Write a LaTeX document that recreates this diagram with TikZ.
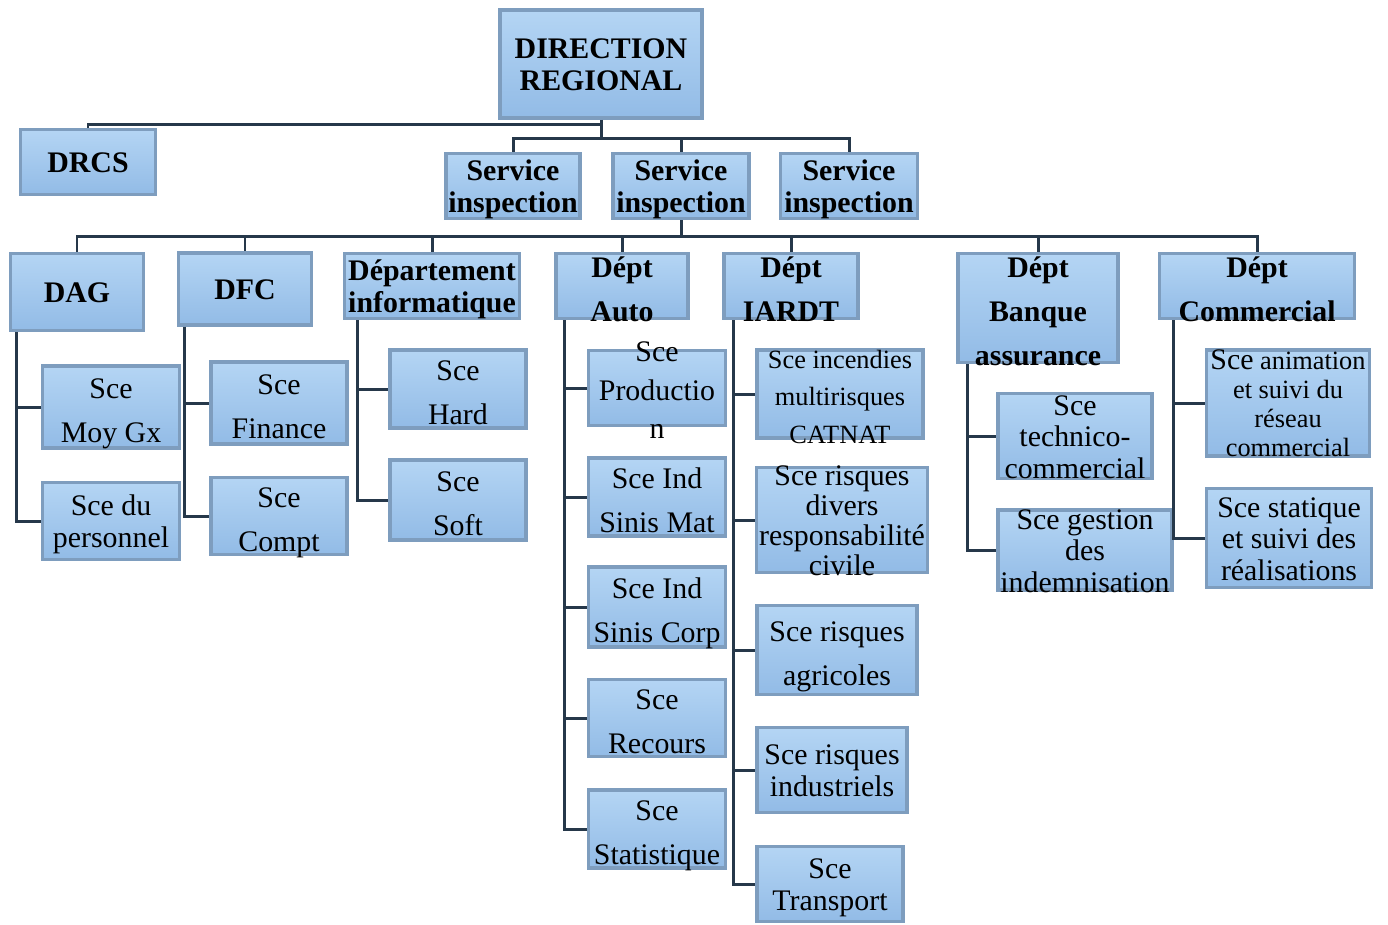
\documentclass[tikz,border=0pt]{standalone}
\usepackage{fontspec}
\setmainfont{Liberation Serif}
\usepackage{tikz}

\definecolor{boxlight}{HTML}{B4D5F4}
\definecolor{boxdark}{HTML}{92BBE6}
\definecolor{boxedge}{HTML}{7E9DBE}
\definecolor{linecol}{HTML}{26384A}

\newcommand{\orgtext}[1]{\raisebox{-0.4em}[0pt][0pt]{\begin{tabular}{@{}c@{}}#1\end{tabular}}}

\begin{document}
\begin{tikzpicture}[x=0.02cm,y=-0.02cm,
  box/.style={rectangle, draw=boxedge, line width=2pt, top color=boxlight, bottom color=boxdark, inner sep=0pt},
  headbox/.style={box, font=\bfseries\fontsize{17}{18}\selectfont},
  headwide/.style={box, font=\bfseries\fontsize{17}{25}\selectfont},
  scebox/.style={box, font=\fontsize{17}{18}\selectfont},
  scewide/.style={box, font=\fontsize{17}{25}\selectfont},
  link/.style={line width=1.7pt, color=linecol}]

\useasboundingbox (0,0) rectangle (1388,924);

% direction
\node[headbox, minimum width=4.04cm, minimum height=2.16cm] (dir) at (601,64) {\orgtext{DIRECTION\\REGIONAL}};
\node[headbox, minimum width=2.7cm, minimum height=1.3cm] (drcs) at (88,162) {\orgtext{DRCS}};
\node[headbox, minimum width=2.68cm, minimum height=1.3cm] (insp1) at (513,186) {\orgtext{Service\\inspection}};
\node[headbox, minimum width=2.72cm, minimum height=1.3cm] (insp2) at (681,186) {\orgtext{Service\\inspection}};
\node[headbox, minimum width=2.74cm, minimum height=1.3cm] (insp3) at (849,186) {\orgtext{Service\\inspection}};

% departements
\node[headbox, minimum width=2.66cm, minimum height=1.54cm] (dag) at (77,292) {\orgtext{DAG}};
\node[headbox, minimum width=2.66cm, minimum height=1.44cm] (dfc) at (245,289) {\orgtext{DFC}};
\node[headbox, minimum width=3.5cm, minimum height=1.3cm] (info) at (432,286) {\orgtext{Département\\informatique}};
\node[headwide, minimum width=2.64cm, minimum height=1.3cm] (auto) at (622,286) {\orgtext{Dépt\\Auto}};
\node[headwide, minimum width=2.68cm, minimum height=1.3cm] (iardt) at (791,286) {\orgtext{Dépt\\IARDT}};
\node[headwide, minimum width=3.2cm, minimum height=2.18cm] (banque) at (1038,308) {\orgtext{Dépt\\Banque\\assurance}};
\node[headwide, minimum width=3.9cm, minimum height=1.3cm] (comm) at (1257,286) {\orgtext{Dépt\\Commercial}};

% services
\node[scewide, minimum width=2.74cm, minimum height=1.64cm] (moygx) at (111,407) {\orgtext{Sce\\Moy Gx}};
\node[scebox, minimum width=2.74cm, minimum height=1.54cm] (perso) at (111,521) {\orgtext{Sce du\\personnel}};
\node[scewide, minimum width=2.72cm, minimum height=1.64cm] (finance) at (279,403) {\orgtext{Sce\\Finance}};
\node[scewide, minimum width=2.72cm, minimum height=1.54cm] (compt) at (279,516) {\orgtext{Sce\\Compt}};
\node[scewide, minimum width=2.72cm, minimum height=1.56cm] (hard) at (458,389) {\orgtext{Sce\\Hard}};
\node[scewide, minimum width=2.72cm, minimum height=1.6cm] (soft) at (458,500) {\orgtext{Sce\\Soft}};

\node[scebox, font=\fontsize{17}{22}\selectfont, minimum width=2.74cm, minimum height=1.5cm] (prod) at (657,388) {\orgtext{Sce\\Productio\\n}};
\node[scewide, minimum width=2.74cm, minimum height=1.56cm] (sinmat) at (657,497) {\orgtext{Sce Ind\\Sinis Mat}};
\node[scewide, minimum width=2.74cm, minimum height=1.6cm] (sincorp) at (657,607) {\orgtext{Sce Ind\\Sinis Corp}};
\node[scewide, minimum width=2.74cm, minimum height=1.54cm] (recours) at (657,718) {\orgtext{Sce\\Recours}};
\node[scewide, minimum width=2.74cm, minimum height=1.56cm] (stat) at (657,829) {\orgtext{Sce\\Statistique}};

\node[scebox, font=\fontsize{15}{21.5}\selectfont, minimum width=3.32cm, minimum height=1.76cm] (incend) at (840,394) {\orgtext{Sce incendies\\multirisques\\CATNAT}};
\node[scebox, font=\fontsize{17}{17}\selectfont, minimum width=3.42cm, minimum height=2.1cm] (divers) at (842,520) {\orgtext{Sce risques\\divers\\responsabilité\\civile}};
\node[scewide, minimum width=3.2cm, minimum height=1.78cm] (agri) at (837,650) {\orgtext{Sce risques\\agricoles}};
\node[scebox, minimum width=3.0cm, minimum height=1.7cm] (indus) at (832,770) {\orgtext{Sce risques\\industriels}};
\node[scebox, minimum width=2.92cm, minimum height=1.5cm] (transp) at (830,884) {\orgtext{Sce\\Transport}};

\node[scebox, minimum width=3.08cm, minimum height=1.7cm] (techno) at (1075,436) {\orgtext{Sce\\technico-\\commercial}};
\node[scebox, minimum width=3.48cm, minimum height=1.6cm] (gestion) at (1085,550) {\orgtext{Sce gestion\\des\\indemnisation}};

\node[scebox, font=\fontsize{15}{16.5}\selectfont, minimum width=3.26cm, minimum height=2.12cm] (anim) at (1288,403) {\orgtext{{\fontsize{17}{16.5}\selectfont Sce} animation\\et suivi du\\réseau\\commercial}};
\node[scebox, minimum width=3.3cm, minimum height=1.98cm] (statq) at (1289,538) {\orgtext{Sce statique\\et suivi des\\réalisations}};

% liaisons
\coordinate (b1) at (601,124);
\coordinate (b2) at (601,138);
\coordinate (b3) at (681,236);

\draw[link] (dir.south) -- (b1) -| (drcs.north);
\draw[link] (b1) -- (b2);
\foreach \n in {insp1,insp2,insp3}
{
\draw[link] (b2) -| (\n.north);
}
\draw[link] (insp2.south) -- (b3);
\foreach \n in {dag,dfc,info,auto,iardt,banque,comm}
{
\draw[link] (b3) -| (\n.north);
}

\foreach \p/\c/\d in {dag/moygx/0.16, dag/perso/0.16, dfc/finance/0.16, dfc/compt/0.16,
  info/hard/0.3, info/soft/0.3,
  auto/prod/0.2, auto/sinmat/0.2, auto/sincorp/0.2, auto/recours/0.2, auto/stat/0.2,
  iardt/incend/0.22, iardt/divers/0.22, iardt/agri/0.22, iardt/indus/0.22, iardt/transp/0.22,
  banque/techno/0.22, banque/gestion/0.22, comm/anim/0.32, comm/statq/0.32}
{
\draw[link] ([xshift=\d cm]\p.south west) |- (\c.west);
}
\end{tikzpicture}
\end{document}
